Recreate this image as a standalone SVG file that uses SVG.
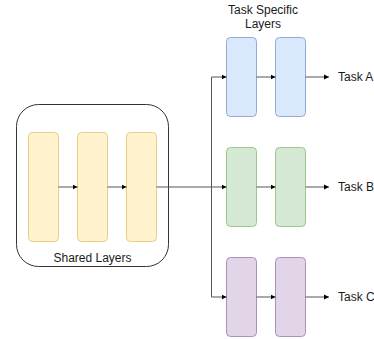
<svg xmlns="http://www.w3.org/2000/svg" width="374" height="339" viewBox="0 0 374 339">
<style>
text{font-family:"Liberation Sans",Arial,sans-serif;font-size:12px;fill:#1a1a1a}
.y{fill:#fff2cc;stroke:#e6cf85}
.b{fill:#dae8fc;stroke:#8fabd6}
.g{fill:#d5e8d4;stroke:#9ac78a}
.p{fill:#e1d5e7;stroke:#ad8fbd}
.c{fill:none;stroke:#555;stroke-width:1}
.a{marker-end:url(#ah)}
</style>
<defs>
<marker id="ah" markerWidth="6" markerHeight="6" refX="5" refY="3" orient="auto" markerUnits="userSpaceOnUse">
<path d="M0,0.5 L5,3 L0,5.5 Z" fill="#000"/>
</marker>
</defs>
<g id="shared">
<rect x="16.5" y="104.5" width="152" height="162" rx="22" fill="#fff" stroke="#333"/>
<text x="92.5" y="261.5" text-anchor="middle">Shared Layers</text>
</g>
<g id="s1"><rect class="y" x="28.5" y="132.5" width="30" height="109" rx="4"/></g>
<g id="s2"><rect class="y" x="77.5" y="132.5" width="30" height="109" rx="4"/></g>
<g id="s3"><rect class="y" x="126.5" y="132.5" width="30" height="109" rx="4"/></g>
<g id="title"><text x="263" y="13.5" text-anchor="middle">Task Specific</text><text x="263" y="27.5" text-anchor="middle">Layers</text></g>
<g id="a1"><rect class="b" x="226.5" y="37.5" width="30" height="79" rx="4"/></g>
<g id="a2"><rect class="b" x="275.5" y="37.5" width="30" height="79" rx="4"/></g>
<g id="b1"><rect class="g" x="226.5" y="147.5" width="30" height="79" rx="4"/></g>
<g id="b2"><rect class="g" x="275.5" y="147.5" width="30" height="79" rx="4"/></g>
<g id="c1"><rect class="p" x="226.5" y="257.5" width="30" height="79" rx="4"/></g>
<g id="c2"><rect class="p" x="275.5" y="257.5" width="30" height="79" rx="4"/></g>
<g id="labels">
<text x="338" y="81">Task A</text>
<text x="338" y="191">Task B</text>
<text x="338" y="301">Task C</text>
</g>
<g id="connectors">
<line class="c a" x1="58.5" y1="187" x2="77.5" y2="187"/>
<line class="c a" x1="107.5" y1="187" x2="126.5" y2="187"/>
<line class="c a" x1="156.5" y1="187" x2="226.5" y2="187"/>
<path class="c a" d="M211.5,187 V77 H226.5"/>
<path class="c a" d="M211.5,187 V297 H226.5"/>
<line class="c a" x1="256.5" y1="77" x2="275.5" y2="77"/>
<line class="c a" x1="256.5" y1="187" x2="275.5" y2="187"/>
<line class="c a" x1="256.5" y1="297" x2="275.5" y2="297"/>
<line class="c a" x1="305.5" y1="77" x2="329" y2="77"/>
<line class="c a" x1="305.5" y1="187" x2="329" y2="187"/>
<line class="c a" x1="305.5" y1="297" x2="329" y2="297"/>
</g>
</svg>
